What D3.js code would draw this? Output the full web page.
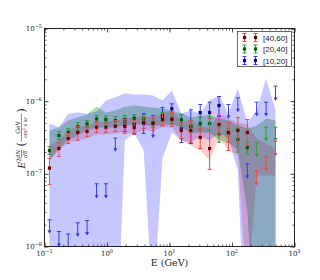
<!DOCTYPE html>
<html>
<head>
<meta charset="utf-8">
<script src="https://cdn.jsdelivr.net/npm/d3@7"></script>
<style>
body { margin: 0; background: #fff; }
text { font-family: "DejaVu Serif", "Liberation Serif", serif; fill: #222; }
.legend text { font-family: "Liberation Sans", Arial, sans-serif; }
</style>
</head>
<body>
<svg width="320" height="280"></svg>
<script>
// energy bin centres (GeV)
const energies = [0.12, 0.17, 0.24, 0.34, 0.48, 0.68, 0.96, 1.36, 1.93, 2.73, 3.86, 5.46, 7.73,
                  10.9, 15.5, 21.9, 31.0, 43.8, 62.0, 87.7, 124, 176, 248, 351, 497];

// [40,60]
const redVal = [1.2e-7, 2.23e-7, 3.06e-7, 3.71e-7, 3.83e-7, 4.38e-7, 4.38e-7, 4.52e-7, 4.48e-7, 4.34e-7, 5.09e-7, 4.93e-7, 5.6e-7,
                5.6e-7, 3.95e-7, 3.95e-7, 3.16e-7, 2.23e-7, 4.77e-7, 3.71e-7, 3.95e-7, 3.71e-7, 7.13e-8, 1.11e-7, 1.79e-7];
const redHi  = [1.63e-7, 2.7e-7, 3.59e-7, 4.48e-7, 4.48e-7, 5.25e-7, 5.25e-7, 5.42e-7, 5.6e-7, 5.42e-7, 6.15e-7, 5.96e-7, 6.76e-7,
                6.98e-7, 4.93e-7, 5.42e-7, 4.21e-7, 5.77e-7, 6.35e-7, 5.09e-7, 5.96e-7, 5.6e-7, 1.1e-7, 1.73e-7, 2.8e-7];
const redLo  = [7.1e-8, 1.73e-7, 2.61e-7, 2.87e-7, 3.26e-7, 3.71e-7, 3.71e-7, 3.83e-7, 3.59e-7, 3.48e-7, 4.21e-7, 3.95e-7, 4.62e-7,
                4.48e-7, 3.06e-7, 2.7e-7, 2.23e-7, 1.15e-7, 3.37e-7, 2.09e-7, 2.61e-7, 2.45e-7, null, null, null];
const redLim = [0,0,0,0,0,0,0,0,0,0,0,0,0,0,0,0,0,0,0,0,0,0,1,1,1];
const redBandHi = [2.45e-7, 2.87e-7, 3.95e-7, 4.48e-7, 4.62e-7, 5.25e-7, 5.25e-7, 5.42e-7, 5.77e-7, 5.96e-7, 6.35e-7, 5.96e-7, 6.76e-7,
                   7.44e-7, 5.42e-7, 5.42e-7, 4.62e-7, 4.21e-7, 6.76e-7, 5.77e-7, 5.09e-7, 4.77e-7, 3.06e-7, 2.61e-7, 2.23e-7];
const redBandLo = [1.53e-7, 2.09e-7, 2.7e-7, 2.87e-7, 3.06e-7, 3.48e-7, 3.48e-7, 3.59e-7, 3.71e-7, 3.59e-7, 3.95e-7, 3.95e-7, 4.34e-7,
                   4.34e-7, 2.87e-7, 2.45e-7, 2.09e-7, 1.53e-7, 3.16e-7, 2.09e-7, 1.79e-7, 1.81e-9, 9.5e-8, 9.5e-8, 9.5e-8];

// [20,40]
const greenVal = [2.09e-7, 3.37e-7, 3.73e-7, 4.48e-7, 4.88e-7, 5.7e-7, 5.6e-7, 5.42e-7, 5.55e-7, 5.83e-7, 5.7e-7, 5.09e-7, 6.0e-7,
                  5.7e-7, 5.55e-7, 4.48e-7, 4.88e-7, 4.93e-7, 3.48e-7, 3.62e-7, 2.97e-7, 2.3e-7, 1.73e-7, 2.87e-7, 2.87e-7];
const greenHi  = [2.38e-7, 3.83e-7, 4.21e-7, 5.09e-7, 5.42e-7, 6.35e-7, 6.25e-7, 6.15e-7, 6.35e-7, 6.55e-7, 6.55e-7, 5.96e-7, 6.98e-7,
                  6.76e-7, 6.55e-7, 5.42e-7, 5.96e-7, 6.15e-7, 4.38e-7, 4.21e-7, 4.21e-7, 2.72e-7, 2.72e-7, 4.38e-7, 4.38e-7];
const greenLo  = [1.85e-7, 2.97e-7, 3.37e-7, 3.95e-7, 4.34e-7, 5.09e-7, 5.0e-7, 4.77e-7, 4.93e-7, 5.09e-7, 5.09e-7, 4.34e-7, 5.25e-7,
                  4.93e-7, 4.62e-7, 3.71e-7, 3.95e-7, 3.95e-7, 2.72e-7, 2.72e-7, 1.99e-7, 1.88e-7, null, null, null];
const greenLim = [0,0,0,0,0,0,0,0,0,0,0,0,0,0,0,0,0,0,0,0,0,0,1,1,1];
const greenBandHi = [3.95e-7, 4.34e-7, 5.42e-7, 5.96e-7, 6.55e-7, 8.45e-7, 6.98e-7, 7.44e-7, 8.45e-7, 8.71e-7, 8.45e-7, 8.18e-7, 7.93e-7,
                     7.44e-7, 6.76e-7, 5.96e-7, 6.35e-7, 6.35e-7, 5.77e-7, 5.42e-7, 4.62e-7, 4.21e-7, 4.62e-7, 5.77e-7, 5.42e-7];
const greenBandLo = [1.53e-7, 2.23e-7, 2.87e-7, 3.37e-7, 3.95e-7, 4.34e-7, 4.34e-7, 4.34e-7, 4.62e-7, 4.77e-7, 4.77e-7, 4.48e-7, 4.77e-7,
                     4.77e-7, 4.34e-7, 3.71e-7, 3.71e-7, 3.71e-7, 2.87e-7, 2.7e-7, 2.09e-7, 3.13e-8, 1e-10, 1.21e-8, 1e-10];

// [10,20]
const blueVal = [1.54e-8, 1.02e-8, 8.0e-9, 1.39e-8, 1.46e-8, 4.72e-8, 4.72e-8, 2.07e-7, 4.98e-7, 4.82e-7, 4.93e-7, 3.19e-7, 6.35e-7,
                 7.86e-7, 4.17e-7, 4.48e-7, 6.98e-7, 6.98e-7, 8.71e-7, 5.87e-7, 7.28e-7, 8.8e-8, 6.35e-7, 6.35e-7, 1.04e-6];
const blueHi  = [2.33e-8, 1.61e-8, 1.49e-8, 2.12e-8, 2.28e-8, 7.3e-8, 7.3e-8, 3.1e-7, 5.83e-7, 6.55e-7, 6.76e-7, 6.35e-7, 8.18e-7,
                 9.2e-7, 6.55e-7, 7.6e-7, 9.0e-7, 9.67e-7, 1.16e-6, 9.0e-7, 1.11e-6, 1.37e-7, 9.67e-7, 9.67e-7, 1.61e-6];
const blueLo  = [null, null, null, null, null, null, null, null, 3.83e-7, 3.59e-7, 3.59e-7, null, 4.62e-7,
                 4.88e-7, 2.7e-7, 2.61e-7, 5.09e-7, 4.93e-7, 6.15e-7, null, null, null, null, null, null];
const blueLim = [1,1,1,1,1,1,1,1,0,0,0,1,0,0,0,0,0,0,0,1,1,1,1,1,1];
const blueBandHi = [4.93e-7, 4.38e-7, 6.7e-7, 7.0e-7, 6.7e-7, 7.2e-7, 1.02e-6, 1.13e-6, 1.29e-6, 1.24e-6, 1.24e-6, 1.2e-6, 1.02e-6,
                    1.4e-6, 6.76e-7, 7.44e-7, 6.76e-7, 1.02e-6, 1.2e-6, 6.76e-7, 1.49e-6, 5.09e-7, 7.44e-7, 2.05e-6, 7.44e-7];
const blueBandLo = [1e-10, 1e-10, 1e-10, 1e-10, 1e-10, 1e-10, 1e-10, 1e-10, 2.87e-7, 3.59e-7, 2.09e-7, 1.32e-9, 1.63e-7,
                    3.71e-7, 2.87e-7, 2.7e-7, 3.26e-7, 2.87e-7, 3.71e-7, 3.06e-7, 1.11e-7, 1e-10, 1e-10, 1e-10, 1e-10];

const legendLabels = ["[40,60]", "[20,40]", "[10,20]"];
const xTickVals = [0.1, 1, 10, 100, 1000];
const xTickExp = ["\u22121", "0", "1", "2", "3"];
const yTickVals = [1e-8, 1e-7, 1e-6, 1e-5];
const yTickExp = ["\u22128", "\u22127", "\u22126", "\u22125"];

const svg = d3.select("svg");
svg.append("rect").attr("width", 320).attr("height", 280).attr("fill", "#fff");

const x = d3.scaleLog().domain([0.1, 1000]).range([44.5, 294.5]);
const y = d3.scaleLog().domain([1e-8, 1e-5]).range([246.5, 28.5]);

svg.append("clipPath").attr("id", "clip")
  .append("rect").attr("x", 44.5).attr("y", 28.5).attr("width", 250).attr("height", 218);

const plot = svg.append("g").attr("clip-path", "url(#clip)");

// shaded bands
const bands = [
  {hi: redBandHi, lo: redBandLo, color: "rgba(255,0,0,0.2)"},
  {hi: greenBandHi, lo: greenBandLo, color: "rgba(0,128,0,0.3)"},
  {hi: blueBandHi, lo: blueBandLo, color: "rgba(0,0,255,0.22)"}
];
const area = d3.area()
  .x(d => x(d.e))
  .y0(d => y(d.lo))
  .y1(d => y(d.hi));
bands.forEach(b => {
  plot.append("path")
    .attr("d", area(energies.map((e, i) => ({e: e, lo: b.lo[i], hi: b.hi[i]}))))
    .attr("fill", b.color);
});

// error bars
const series = [
  {val: blueVal, hi: blueHi, lo: blueLo, lim: blueLim, bar: "#3838f0", mark: "#00007a"},
  {val: greenVal, hi: greenHi, lo: greenLo, lim: greenLim, bar: "#2f9f2f", mark: "#005a00"},
  {val: redVal, hi: redHi, lo: redLo, lim: redLim, bar: "#f04848", mark: "#700000"}
];

function errorBar(g, cx, cy, top, bot, lim, s) {
  g.append("line").attr("x1", cx).attr("x2", cx).attr("y1", top).attr("y2", bot)
    .attr("stroke", s.bar).attr("stroke-width", 1);
  g.append("line").attr("x1", cx - 2).attr("x2", cx + 2).attr("y1", top).attr("y2", top)
    .attr("stroke", s.bar).attr("stroke-width", 1);
  if (lim) {
    g.append("path")
      .attr("d", `M${cx - 2},${cy - 2.5}L${cx + 2},${cy - 2.5}L${cx},${cy + 1}Z`)
      .attr("fill", s.bar);
  } else {
    g.append("line").attr("x1", cx - 2).attr("x2", cx + 2).attr("y1", bot).attr("y2", bot)
      .attr("stroke", s.bar).attr("stroke-width", 1);
    g.append("rect").attr("x", cx - 1.6).attr("y", cy - 1.6).attr("width", 3.2).attr("height", 3.2)
      .attr("fill", s.mark);
  }
}

series.forEach(s => {
  const g = plot.append("g");
  energies.forEach((e, i) => {
    const cy = y(s.val[i]);
    errorBar(g, x(e), cy, y(s.hi[i]), s.lim[i] ? cy : y(s.lo[i]), s.lim[i], s);
  });
});

// axes: ticks pointing inward on all four sides
function addAxes(axisFn, transform, scale, major, size) {
  const a = axisFn(scale).tickValues(major ? (scale === x ? xTickVals : yTickVals) : scale.ticks())
    .tickSize(-size).tickSizeOuter(0).tickFormat("");
  const g = svg.append("g").attr("transform", transform).call(a);
  g.select(".domain").remove();
  g.selectAll(".tick line").attr("stroke", "#333").attr("stroke-width", 0.8);
  return g;
}
[[d3.axisBottom, "translate(0,246.5)", x], [d3.axisTop, "translate(0,28.5)", x],
 [d3.axisLeft, "translate(44.5,0)", y], [d3.axisRight, "translate(294.5,0)", y]].forEach(([fn, tr, sc]) => {
  addAxes(fn, tr, sc, false, 2);
  addAxes(fn, tr, sc, true, 4);
});

svg.append("rect").attr("x", 44.5).attr("y", 28.5).attr("width", 250).attr("height", 218)
  .attr("fill", "none").attr("stroke", "#222").attr("stroke-width", 1);

// tick labels
xTickVals.forEach((v, i) => {
  const t = svg.append("text").attr("x", x(v)).attr("y", 256).attr("text-anchor", "middle")
    .attr("font-size", 7).text("10");
  t.append("tspan").attr("dy", -3).attr("font-size", 5).text(xTickExp[i]);
});
yTickVals.forEach((v, i) => {
  const t = svg.append("text").attr("x", 42).attr("y", y(v) + 2.5).attr("text-anchor", "end")
    .attr("font-size", 7).text("10");
  t.append("tspan").attr("dy", -3).attr("font-size", 5).text(yTickExp[i]);
});

// axis labels
svg.append("text").attr("x", 169.5).attr("y", 266).attr("text-anchor", "middle")
  .attr("font-size", 9.5).text("E (GeV)");

const yl = svg.append("g").attr("transform", "translate(21,137.5) rotate(-90)");
const eTxt = yl.append("text").attr("x", -31).attr("y", 3.5).attr("font-size", 9).attr("font-style", "italic").text("E");
eTxt.append("tspan").attr("dy", -3.5).attr("font-size", 6).attr("font-style", "normal").text("2");
yl.append("text").attr("x", -16.5).attr("y", -1.2).attr("text-anchor", "middle").attr("font-size", 5.5)
  .attr("font-style", "italic").text("dN");
yl.append("text").attr("x", -16.5).attr("y", 5.5).attr("text-anchor", "middle").attr("font-size", 5.5)
  .attr("font-style", "italic").text("dE");
yl.append("line").attr("x1", -20.5).attr("x2", -12.5).attr("y1", 0.5).attr("y2", 0.5)
  .attr("stroke", "#222").attr("stroke-width", 0.5);
yl.append("text").attr("x", -9).attr("y", 4).attr("font-size", 11).text("(");
yl.append("text").attr("x", 10).attr("y", -1.5).attr("text-anchor", "middle").attr("font-size", 6).text("GeV");
const den = yl.append("text").attr("x", 10).attr("y", 5.8).attr("text-anchor", "middle").attr("font-size", 5).text("cm");
den.append("tspan").attr("dy", -1.5).attr("font-size", 3.5).text("2");
den.append("tspan").attr("dy", 1.5).text(" s sr");
yl.append("line").attr("x1", -4).attr("x2", 24).attr("y1", 0.5).attr("y2", 0.5)
  .attr("stroke", "#222").attr("stroke-width", 0.5);
yl.append("text").attr("x", 25).attr("y", 4).attr("font-size", 11).text(")");

// legend
const lg = svg.append("g").attr("class", "legend");
lg.append("rect").attr("x", 237.5).attr("y", 31.5).attr("width", 54).attr("height", 35)
  .attr("fill", "#fff").attr("stroke", "#444").attr("stroke-width", 0.8);
const legendSeries = [series[2], series[1], series[0]];
legendSeries.forEach((s, i) => {
  const ly = 37.5 + i * 11.5;
  [244.5, 255.5].forEach(lx => errorBar(lg, lx, ly, ly - 4, ly + 4, 0, s));
  lg.append("text").attr("x", 263).attr("y", ly + 3).attr("font-size", 8).text(legendLabels[i]);
});
</script>
</body>
</html>
